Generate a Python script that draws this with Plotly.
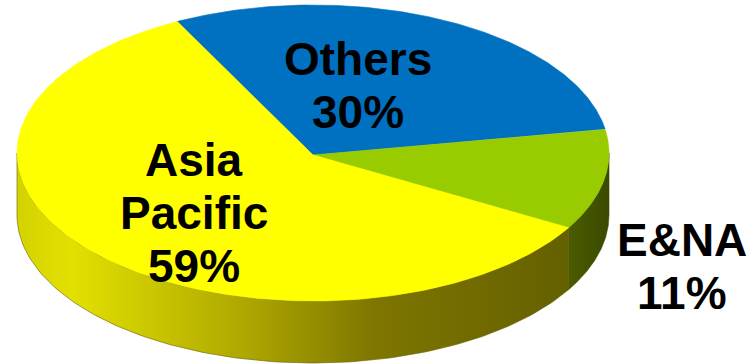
import numpy as np
import plotly.graph_objects as go

# ---- data ----
labels = ["Others", "E&NA", "Asia Pacific"]
values = [30, 11, 59]
top_colors = ["#0070C0", "#99CC00", "#FFFF00"]
side_scales = [
    [[0, "#003f70"], [1, "#002f55"]],
    [[0, "#4a5c00"], [1, "#3a4a00"]],
    [[0, "#D4D200"], [0.1, "#E2E000"], [0.4, "#B0AA00"], [0.65, "#7E7600"], [1, "#646000"]],
]
label_pos = [(358, 76), (682, 257), (194, 177)]  # baseline of first line

# ---- geometry (pixel-like coordinates, y down) ----
W, H = 754, 364
cx, cy, rx, ry, depth = 313, 153, 296, 148, 62
start_deg = 117.3

def ell(t_deg, dy=0.0):
    t = np.radians(t_deg)
    return cx + rx * np.cos(t), cy - ry * np.sin(t) + dy

fig = go.Figure()
total = float(sum(values))
angles = []
a = start_deg
for v in values:
    a_end = a - 360.0 * v / total
    angles.append((a_end, a))
    a = a_end

# sides (front half: sin < 0, i.e. angles in (180, 360) mod 360)
for (lo, hi), scale in zip(angles, side_scales):
    lo_n = lo % 360
    hi_n = lo_n + (hi - lo)
    for base in (0, 360, -360):
        s = max(lo_n, 180 + base)
        e = min(hi_n, 360 + base)
        if e - s <= 0.01:
            continue
        ts = np.linspace(s, e, 120)
        xt, yt = ell(ts)
        xb, yb = ell(ts[::-1], depth)
        xs = np.concatenate([xt, xb, xt[:1]])
        ys = np.concatenate([yt, yb, yt[:1]])
        fig.add_trace(go.Scatter(
            x=xs, y=ys, mode="lines", fill="toself",
            line=dict(width=0.6, color=scale[-1][1]),
            fillgradient=dict(type="horizontal", colorscale=scale),
            hoverinfo="skip", showlegend=False))

# top faces
for (lo, hi), col in zip(angles, top_colors):
    ts = np.linspace(hi, lo, 200)
    xe, ye = ell(ts)
    xs = np.concatenate([[cx], xe, [cx]])
    ys = np.concatenate([[cy + 2], ye, [cy + 2]])
    fig.add_trace(go.Scatter(
        x=xs, y=ys, mode="lines", fill="toself", fillcolor=col,
        line=dict(width=0.6, color=col),
        hoverinfo="skip", showlegend=False))

# labels
fs = 46
line_h = 53
for lab, v, (lx, ly) in zip(labels, values, label_pos):
    lines = lab.split(" ") + [f"{v}%"]
    for i, ln in enumerate(lines):
        fig.add_annotation(
            x=lx, y=ly + i * line_h - 0.36 * fs, text=f"<b>{ln}</b>",
            showarrow=False, xanchor="center", yanchor="middle",
            font=dict(family="Liberation Sans, Arial, sans-serif", size=fs, color="black"))

fig.update_layout(
    width=W, height=H, margin=dict(l=0, r=0, t=0, b=0),
    paper_bgcolor="white", plot_bgcolor="white",
    xaxis=dict(range=[0, W], visible=False, fixedrange=True),
    yaxis=dict(range=[H, 0], visible=False, fixedrange=True),
    showlegend=False,
)
fig.write_html("out.html")
